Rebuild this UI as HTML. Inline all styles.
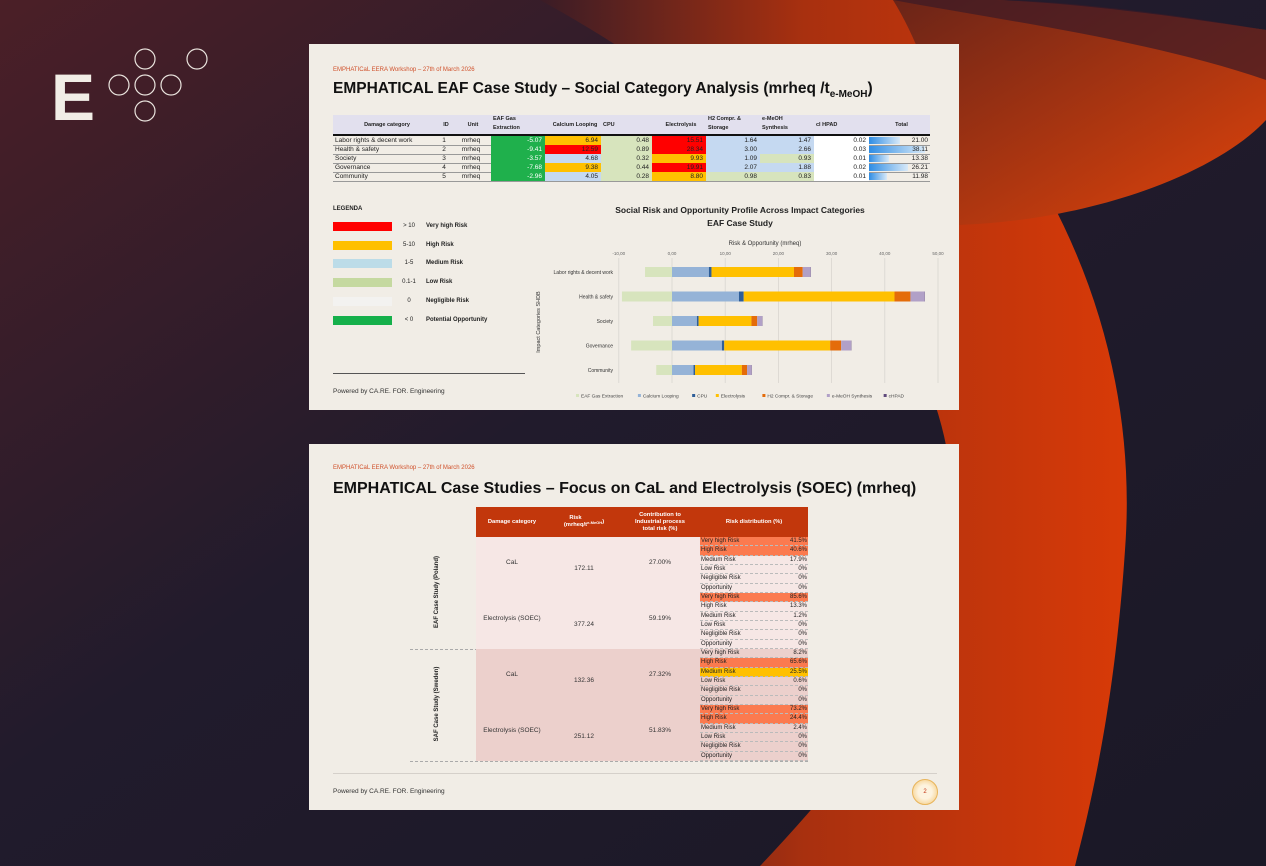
<!DOCTYPE html>
<html><head><meta charset="utf-8">
<style>
*{margin:0;padding:0;box-sizing:border-box}
body{width:1266px;height:866px;overflow:hidden;background:#1c1a28;font-family:"Liberation Sans",sans-serif;position:relative}
.abs{position:absolute}
.slide{position:absolute;left:309px;width:650px;height:366px;background:#f1ede6}
.hdr{position:absolute;left:24px;font-size:6px;color:#d0502a;white-space:nowrap}
.ttl{position:absolute;left:24px;font-size:16px;font-weight:bold;color:#111;white-space:nowrap}
.pw{position:absolute;left:24px;font-size:6.5px;color:#333;white-space:nowrap}
.t1c{position:absolute;font-size:6.5px;color:#222;white-space:nowrap;line-height:9px;height:9px}
.t2{position:absolute;font-size:6.5px;color:#333;white-space:nowrap}
</style></head><body>
<svg class="abs" style="left:0;top:0" width="1266" height="866">
<defs>
<linearGradient id="bg" x1="0" y1="0" x2="1" y2="1"><stop offset="0" stop-color="#4b1f27"/><stop offset="0.45" stop-color="#211b2c"/><stop offset="1" stop-color="#1a1826"/></linearGradient>
<linearGradient id="or" x1="0" y1="0" x2="1" y2="0"><stop offset="0" stop-color="#3a1c26"/><stop offset="0.45" stop-color="#a8300f"/><stop offset="1" stop-color="#d83a08"/></linearGradient>
<linearGradient id="or2" x1="0" y1="0" x2="1" y2="1"><stop offset="0" stop-color="#6a2418"/><stop offset="1" stop-color="#e2440a"/></linearGradient>
</defs>
<rect width="1266" height="866" fill="url(#bg)"/>
<path d="M540 0 L893 0 C1060 150 1140 350 1125 550 C1115 700 1092 800 1075 866 L760 866 C860 760 960 640 950 470 C930 300 760 120 540 0 Z" fill="url(#or)"/>
<path d="M958 225 C1100 220 1220 170 1266 120 L1266 30 C1200 20 1100 5 1000 0 L893 0 C930 60 950 140 958 225 Z" fill="url(#or2)"/>
<path d="M893 0 C1000 20 1150 40 1266 80 L1266 30 C1150 10 1050 0 990 0 Z" fill="#3a1a26" opacity="0.7"/>
</svg>
<div class="abs" style="left:51px;top:64px;font-size:66px;font-weight:bold;color:#f1ede6;line-height:66px">E</div>
<svg class="abs" style="left:100px;top:40px" width="120" height="90">
<g fill="none" stroke="#e8e2dc" stroke-width="1.2">
<circle cx="45" cy="19" r="10"/><circle cx="97" cy="19" r="10"/><circle cx="19" cy="45" r="10"/><circle cx="45" cy="45" r="10"/><circle cx="71" cy="45" r="10"/><circle cx="45" cy="71" r="10"/></g></svg>

<div class="slide" style="top:44px">
<div class="hdr" style="top:23px">EMPHATICaL EERA Workshop – 27th of March 2026</div>
<div class="ttl" style="top:36px;font-size:15.5px">EMPHATICAL EAF Case Study – Social Category Analysis (mrheq /t<sub style="font-size:10px">e-MeOH</sub>)</div>
<div id="t1" class="abs" style="left:0;top:0"></div>
<div class="abs" style="left:24px;top:162px;font-size:6px;font-weight:bold;color:#222">LEGENDA</div>
<div id="leg1"></div>
<div class="abs" style="left:24px;top:329px;width:192px;height:1px;background:#555"></div>
<div class="pw" style="top:344px">Powered by CA.RE. FOR. Engineering</div>
</div>
<svg id="chart" class="abs" style="left:530px;top:200px" width="420" height="205"></svg>

<div class="slide" style="top:444px">
<div class="hdr" style="top:21px">EMPHATICaL EERA Workshop – 27th of March 2026</div>
<div class="ttl" style="top:36px">EMPHATICAL Case Studies – Focus on CaL and Electrolysis (SOEC) (mrheq)</div>
<div id="t2"></div>
<div class="abs" style="left:24px;top:329px;width:604px;height:1px;background:#d5d0ca"></div>
<div class="pw" style="top:344px">Powered by CA.RE. FOR. Engineering</div>
<div class="abs" style="left:603px;top:335px;width:26px;height:26px;border-radius:50%;background:radial-gradient(#fdf3df 40%,#f3c46f);border:1px solid #e8b45a;font-size:6px;color:#c03010;text-align:center;line-height:24px">2</div>
</div>

<script>
const categories=["Labor rights & decent work","Health & safety","Society","Governance","Community"];
const processes=["EAF Gas Extraction","Calcium Looping","CPU","Electrolysis","H2 Compr. & Storage","e-MeOH Synthesis","cHPAD"];
const eafGas=[-5.07,-9.41,-3.57,-7.68,-2.96];
const calciumLooping=[6.94,12.59,4.68,9.38,4.05];
const cpu=[0.48,0.89,0.32,0.44,0.28];
const electrolysis=[15.51,28.34,9.93,19.91,8.80];
const h2Storage=[1.64,3.00,1.09,2.07,0.98];
const meohSynthesis=[1.47,2.66,0.93,1.88,0.83];
const chpad=[0.02,0.03,0.01,0.02,0.01];
const totals=[21.00,38.11,13.38,26.21,11.98];
const xTicks=[-10,0,10,20,30,40,50];
const xTickLabels=["-10,00","0,00","10,00","20,00","30,00","40,00","50,00"];
const series=[eafGas,calciumLooping,cpu,electrolysis,h2Storage,meohSynthesis,chpad];
const colors=["#d7e4bd","#95b3d7","#2e5e99","#ffc000","#e46c0a","#b1a0c7","#604a7b"];

/* ---------- table 1 ---------- */
const t1=document.getElementById('t1');
function cellColor(v){if(v<0)return"#1fb04c";if(v>10)return"#ff0000";if(v>=5)return"#ffc000";if(v>=1)return"#c5d9f1";if(v>=0.1)return"#d7e4bd";return"#ffffff";}
const colX=[491,545,601,652,706,760,814,869,930];
const heads=[["Damage category",334,436,"center"],["ID",436,452,"center"],["Unit",452,490,"center"],["EAF Gas<br>Extraction",491,545,"left"],["Calcium Looping",545,601,"center"],["CPU",601,652,"left"],["Electrolysis",652,706,"center"],["H2 Compr. &amp;<br>Storage",706,760,"left"],["e-MeOH<br>Synthesis",760,814,"left"],["cl HPAD",814,869,"left"],["Total",869,930,"center"]];
let h='<div class="abs" style="left:24px;top:71px;width:597px;height:19px;background:#e2e0ee"></div>';
heads.forEach(c=>{h+=`<div class="t1c" style="left:${c[1]-309+2}px;top:${c[0].includes('<br>')?71:77}px;width:${c[2]-c[1]}px;text-align:${c[3]};font-weight:bold;font-size:5.5px;line-height:9px;height:auto">${c[0]}</div>`;});
h+='<div class="abs" style="left:24px;top:90px;width:597px;height:2px;background:#111"></div>';
categories.forEach((cat,i)=>{
 const y=92+i*9;
 h+=`<div class="t1c" style="left:26px;top:${y}px">${cat}</div>`;
 h+=`<div class="t1c" style="left:${436-309}px;top:${y}px;width:16px;text-align:center">${i+1}</div>`;
 h+=`<div class="t1c" style="left:${452-309}px;top:${y}px;width:38px;text-align:center">mrheq</div>`;
 series.forEach((s,j)=>{
  const x=colX[j]-309,w=colX[j+1]-colX[j];
  h+=`<div class="t1c" style="left:${x}px;top:${y}px;width:${w}px;background:${cellColor(s[i])};text-align:right;padding-right:3px;color:${s[i]<0?'#fff':'#222'}">${s[i].toFixed(2)}</div>`;
 });
 const bw=totals[i]/38.11*56;
 h+=`<div class="abs" style="left:${869-309}px;top:${y+1}px;width:${bw}px;height:7px;background:linear-gradient(90deg,#2f8de4,#d8e9f8)"></div>`;
 h+=`<div class="t1c" style="left:${869-309}px;top:${y}px;width:61px;text-align:right;padding-right:2px">${totals[i].toFixed(2)}</div>`;
 h+=`<div class="abs" style="left:24px;top:${y+8.5}px;width:597px;height:0.6px;background:#999"></div>`;
});
t1.innerHTML=h;

/* ---------- legend 1 ---------- */
const legColors=["#ff0000","#ffc000","#bcdce8","#c5d9a0","#f3f2f0","#15b04b"];
const legRange=["> 10","5-10","1-5","0.1-1","0","< 0"];
const legLabels=["Very high Risk","High Risk","Medium Risk","Low Risk","Negligible Risk","Potential Opportunity"];
let lh='';
legLabels.forEach((l,i)=>{const y=178+i*18.7;
 lh+=`<div class="abs" style="left:24px;top:${y}px;width:59px;height:9px;background:${legColors[i]}"></div>`;
 lh+=`<div class="abs" style="left:84px;top:${y+1}px;width:32px;text-align:center;font-size:6px;color:#222">${legRange[i]}</div>`;
 lh+=`<div class="abs" style="left:117px;top:${y+1}px;font-size:6px;font-weight:bold;color:#222">${l}</div>`;});
document.getElementById('leg1').innerHTML=lh;

/* ---------- chart ---------- */
const svg=document.getElementById('chart');const NS="http://www.w3.org/2000/svg";
function el(t,a,txt){const e=document.createElementNS(NS,t);for(const k in a)e.setAttribute(k,a[k]);if(txt!==undefined)e.textContent=txt;svg.appendChild(e);return e;}
const x0=142,unit=5.32;
function xs(v){return x0+v*unit;}
function ys(i){return 72+i*24.5;}
let e;
e=el('text',{x:210,y:13,'text-anchor':'middle','font-size':'8.5','font-weight':'bold',fill:'#222'},'Social Risk and Opportunity Profile Across Impact Categories');


e=el('text',{x:210,y:26,'text-anchor':'middle','font-size':'8.5','font-weight':'bold',fill:'#222'},'EAF Case Study');


e=el('text',{x:235,y:45,'text-anchor':'middle','font-size':'6',fill:'#333'},'Risk  & Opportunity (mrheq)');


xTicks.forEach((t,i)=>{
 e=el('line',{x1:xs(t),x2:xs(t),y1:58,y2:183,stroke:'#d9d6d0','stroke-width':'0.8'});
 
 
 e=el('text',{x:xs(t),y:55,'text-anchor':'middle','font-size':'4.5',fill:'#666'},xTickLabels[i]);
 
 
});
e=el('text',{x:0,y:0,'text-anchor':'middle','font-size':'5.5',fill:'#333',transform:'translate(10,122) rotate(-90)'},'Impact Categories SHDB');


categories.forEach((c,i)=>{
 e=el('text',{x:83,y:ys(i)+2,'text-anchor':'end','font-size':'5',fill:'#333'},c);
 
 
 let pos=0,neg=0;
 series.forEach((s,j)=>{
  const v=s[i];let a,b;
  if(v<0){a=neg+v;b=neg;neg=a;}else{a=pos;b=pos+v;pos=b;}
  e=el('rect',{x:xs(a),y:ys(i)-5,width:Math.max(0.3,xs(b)-xs(a)),height:10,fill:colors[j]});
  
  
 });
});
let lx=46;
processes.forEach((p,j)=>{
 e=el('rect',{x:lx,y:194,width:3,height:3,fill:colors[j]});
 
 
 e=el('text',{x:lx+5,y:197.5,'font-size':'4.8',fill:'#444'},p);
 
 
 lx+=p.length*2.55+16;
});

/* ---------- table 2 ---------- */
const studies=["EAF Case Study (Poland)","SAF Case Study (Sweden)"];
const damage=["CaL","Electrolysis (SOEC)","CaL","Electrolysis (SOEC)"];
const riskVals=["172.11","377.24","132.36","251.12"];
const contrib=["27.00%","59.19%","27.32%","51.83%"];
const distLabels=["Very high Risk","High Risk","Medium Risk","Low Risk","Negligible Risk","Opportunity"];
const dist=[["41.5%","40.6%","17.9%","0%","0%","0%"],["85.6%","13.3%","1.2%","0%","0%","0%"],["8.2%","65.6%","25.5%","0.6%","0%","0%"],["73.2%","24.4%","2.4%","0%","0%","0%"]];
const highlight=[["o","o","","","",""],["o","","","","",""],["","o","y","","",""],["o","o","","","",""]];
let t='';const L=476-309,T=507-444;
t+=`<div class="abs" style="left:${L}px;top:${T}px;width:332px;height:30px;background:#c2370c"></div>`;
const hc=[["Damage category",476,548],["Risk<br>(mrheq/t<sub style='font-size:4px'>e-MeOH</sub>)",548,620],["Contribution to<br>Industrial process<br>total risk (%)",620,700],["Risk distribution (%)",700,808]];
hc.forEach(c=>{t+=`<div class="abs" style="left:${c[1]-309}px;top:${T}px;width:${c[2]-c[1]}px;height:30px;display:flex;align-items:center;justify-content:center;text-align:center;color:#fff;font-weight:bold;font-size:5.8px;line-height:7px">${c[0]}</div>`;});
for(let k=0;k<4;k++){
 const y=T+30+k*56;const bg=k<2?'#f6e7e5':'#ecd0cc';
 t+=`<div class="abs" style="left:${L}px;top:${y}px;width:332px;height:56px;background:${bg}"></div>`;
 t+=`<div class="t2" style="left:${L}px;top:${y+22}px;width:72px;text-align:center">${damage[k]}</div>`;
 t+=`<div class="t2" style="left:${548-309}px;top:${y+28}px;width:72px;text-align:center">${riskVals[k]}</div>`;
 t+=`<div class="t2" style="left:${620-309}px;top:${y+22}px;width:80px;text-align:center">${contrib[k]}</div>`;
 distLabels.forEach((d,r)=>{const yy=y+r*9.33;const hl=highlight[k][r];
  const b=hl==='o'?'#fb7a4f':hl==='y'?'#ffc000':'transparent';
  t+=`<div class="abs" style="left:${700-309}px;top:${yy}px;width:108px;height:9.3px;background:${b};border-bottom:0.5px dashed #bbb;font-size:6px;line-height:9px;color:#222;padding:0 1px"><span>${d}</span><span style="float:right">${dist[k][r]}</span></div>`;});
 if(k%2===1)t+=`<div class="abs" style="left:${410-309}px;top:${y+55.5}px;width:398px;border-top:0.6px dashed #aaa"></div>`;
 else t+=`<div class="abs" style="left:${L}px;top:${y+55.5}px;width:224px;border-top:0.6px dashed #bbb"></div>`;
}
studies.forEach((s,i)=>{t+=`<div class="abs" style="left:${437-309-56}px;top:${T+30+i*112+52}px;width:112px;text-align:center;font-size:6px;font-weight:bold;color:#222;transform:rotate(-90deg)">${s}</div>`;});
document.getElementById('t2').innerHTML=t;
</script>
</body></html>
